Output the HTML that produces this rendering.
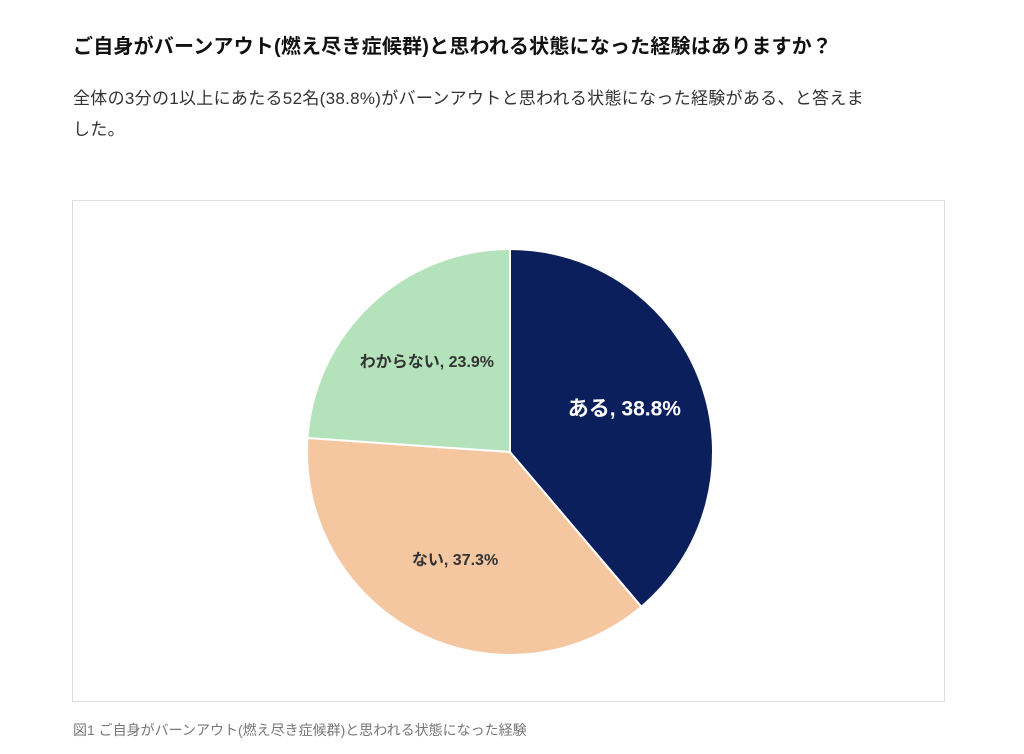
<!DOCTYPE html>
<html><head><meta charset="utf-8">
<style>
body{margin:0;width:1024px;height:754px;background:#fff;font-family:"Liberation Sans","Noto Sans CJK JP",sans-serif;position:relative;overflow:hidden}
#title{position:absolute;left:73px;top:30px;font-size:20px;font-weight:bold;color:#111;white-space:nowrap;letter-spacing:0.2px}
#desc{position:absolute;left:73px;top:83px;font-size:17px;line-height:31px;color:#333;white-space:nowrap;letter-spacing:0.3px}
#box{position:absolute;left:72px;top:200px;width:871px;height:500px;border:1px solid #ddd}
#cap{position:absolute;left:73px;top:720px;font-size:14px;color:#777;white-space:nowrap}
</style></head><body>
<div id="title">ご自身がバーンアウト(燃え尽き症候群)と思われる状態になった経験はありますか？</div>
<div id="desc">全体の3分の1以上にあたる52名(38.8%)がバーンアウトと思われる状態になった経験がある、と答えま<br>した。</div>
<div id="box">
<svg id="pie" width="871" height="500"></svg>
</div>
<div id="cap">図1 ご自身がバーンアウト(燃え尽き症候群)と思われる状態になった経験</div>
<script>
const categories=["ある","ない","わからない"];
const values=[38.8,37.3,23.9];
const colors=["#0b1f5c","#f5c7a0","#b4e3bb"];
const labelColors=["#fff","#333","#333"];
const svg=document.getElementById('pie');
const NS="http://www.w3.org/2000/svg";
const cx=437,cy=251,r=203;
const total=values.reduce((a,b)=>a+b,0);
let acc=0;
function pt(frac,rad){const a=frac*2*Math.PI;return [cx+rad*Math.sin(a),cy-rad*Math.cos(a)];}
values.forEach((v,i)=>{
  const s=acc/total,e=(acc+v)/total;acc+=v;
  const p0=pt(s,r),p1=pt(e,r);
  const large=(e-s)>0.5?1:0;
  const path=document.createElementNS(NS,'path');
  path.setAttribute('d',`M${cx},${cy}L${p0[0]},${p0[1]}A${r},${r} 0 ${large} 1 ${p1[0]},${p1[1]}Z`);
  path.setAttribute('fill',colors[i]);
  path.setAttribute('stroke','#fff');
  path.setAttribute('stroke-width','2');
  
  
  svg.appendChild(path);
  const m=pt((s+e)/2,r*0.6);
  const t=document.createElementNS(NS,'text');
  t.setAttribute('x',m[0]);t.setAttribute('y',m[1]);
  t.setAttribute('text-anchor','middle');t.setAttribute('dominant-baseline','middle');
  t.setAttribute('font-weight','bold');
  t.setAttribute('font-size',i===0?'21':'16');
  t.setAttribute('fill',labelColors[i]);
  t.textContent=categories[i]+', '+v.toFixed(1)+'%';
  
  
  svg.appendChild(t);
});
</script>
</body></html>
